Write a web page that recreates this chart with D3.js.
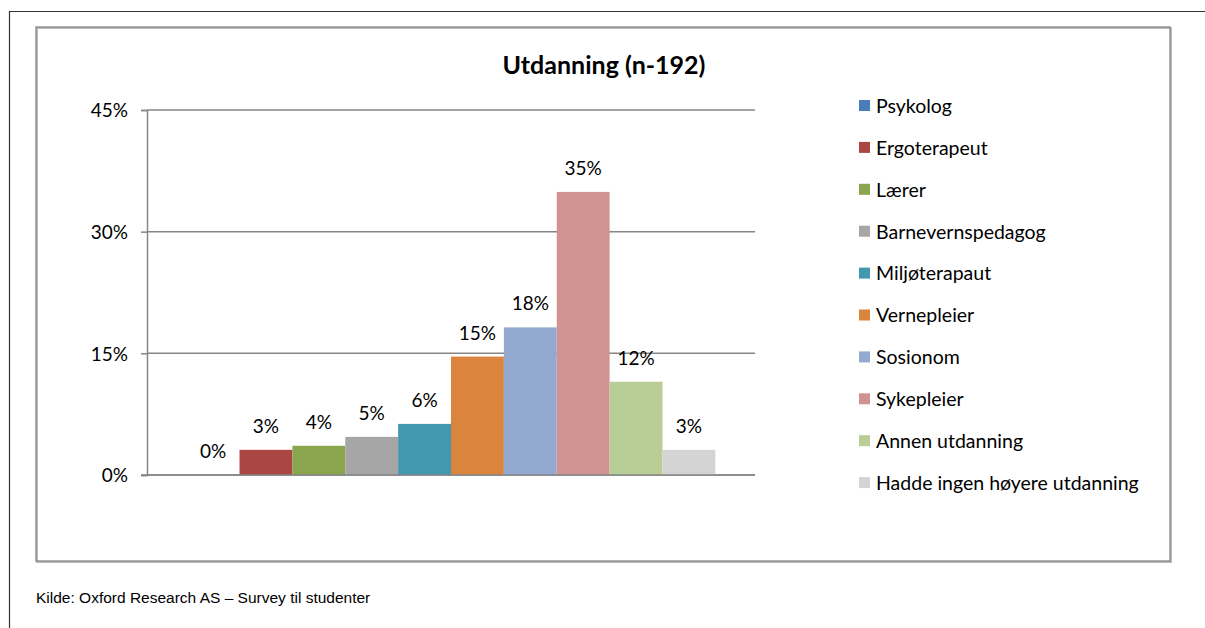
<!DOCTYPE html>
<html>
<head>
<meta charset="utf-8">
<script src="https://cdn.jsdelivr.net/npm/d3@7"></script>
<style>
  html, body { margin: 0; background: #fff; overflow: hidden; }
  svg { display: block; }
  svg text { font-family: Lato, "Open Sans", sans-serif; fill: #000; }
</style>
</head>
<body>
<div class="svgContainer"></div>
<script>
// data
let categories = ["Psykolog", "Ergoterapeut", "Lærer", "Barnevernspedagog", "Miljøterapaut",
    "Vernepleier", "Sosionom", "Sykepleier", "Annen utdanning", "Hadde ingen høyere utdanning"];
let values = [0, 3.1, 3.6, 4.7, 6.3, 14.6, 18.2, 34.9, 11.5, 3.1];
let yTicks = [0, 15, 30, 45];
let colors = ["#4A7EBB", "#AA4643", "#89A54E", "#A6A6A6", "#4198AF",
    "#DB843D", "#93A9CF", "#D19392", "#B9CD96", "#D4D4D4"];

let w = 1205;
let h = 628;

let plotLeft = 147;
let plotRight = 755;
let plotTop = 110;
let plotBottom = 475;

const svg = d3.select(".svgContainer")
    .append("svg")
    .attr("width", w)
    .attr("height", h)

// outer frame: only the left and top edges are visible
svg.append("path")
    .attr("d", `M9.5,${h} V11.5 H${w}`)
    .attr("fill", "none")
    .attr("stroke", "#333")
    .attr("stroke-width", 1.2)

// chart area border with slight shadow
svg.append("rect")
    .attr("x", 37).attr("y", 28)
    .attr("width", 1134).attr("height", 534)
    .attr("fill", "none")
    .attr("stroke", "#bbb")
    .attr("stroke-width", 2)
svg.append("rect")
    .attr("x", 36).attr("y", 27)
    .attr("width", 1134).attr("height", 534)
    .attr("fill", "none")
    .attr("stroke", "#868686")
    .attr("stroke-width", 1.3)

svg.append("text")
    .attr("x", 604)
    .attr("y", 74)
    .attr("text-anchor", "middle")
    .style("font-size", "25px")
    .style("font-weight", "bold")
    .text("Utdanning (n-192)")

let yScale = d3.scaleLinear()
    .domain([0, 45])
    .range([plotBottom, plotTop]);

// one category, Excel-like gap width 150%
let barW = (plotRight - plotLeft) / (categories.length + 1.5);
let xScale = d3.scaleBand()
    .domain(categories)
    .range([plotLeft + 0.75 * barW, plotRight - 0.75 * barW])
    .padding(0);

const yAxis = d3.axisLeft(yScale)
    .tickValues(yTicks)
    .tickSize(6)
    .tickFormat((d) => d + "%");

// gridlines
svg.append("g")
    .selectAll("line")
    .data(yTicks)
    .enter()
    .append("line")
    .attr("x1", plotLeft)
    .attr("x2", plotRight)
    .attr("y1", (d) => yScale(d))
    .attr("y2", (d) => yScale(d))
    .attr("stroke", "#868686")
    .attr("stroke-width", 1.5)

let yG = svg.append("g")
    .attr("id", "y-axis")
    .attr("transform", `translate(${plotLeft}, 0)`)
    .call(yAxis)
yG.select(".domain").attr("stroke", "#868686").attr("stroke-width", 1.5)
yG.selectAll(".tick line").attr("stroke", "#868686").attr("stroke-width", 1.5)
yG.selectAll(".tick text")
    .attr("x", -19)
    .attr("dy", "0.36em")
    .style("font-size", "19px")
    .style("font-family", "Lato, sans-serif")
    .attr("fill", "#000")

svg.selectAll(".bar")
    .data(values)
    .enter()
    .append("rect")
    .attr("class", "bar")
    .attr("x", (d, i) => xScale(categories[i]))
    .attr("y", (d) => yScale(d))
    .attr("width", xScale.bandwidth())
    .attr("height", (d) => plotBottom - yScale(d))
    .attr("fill", (d, i) => colors[i])

svg.selectAll(".barLabel")
    .data(values)
    .enter()
    .append("text")
    .attr("class", "barLabel")
    .attr("x", (d, i) => xScale(categories[i]) + xScale.bandwidth() / 2)
    .attr("y", (d) => yScale(d) - 17)
    .attr("text-anchor", "middle")
    .style("font-size", "19px")
    .text((d) => Math.round(d) + "%")

// redraw baseline over bars
svg.append("line")
    .attr("x1", plotLeft - 6).attr("x2", plotRight)
    .attr("y1", plotBottom).attr("y2", plotBottom)
    .attr("stroke", "#868686")
    .attr("stroke-width", 1.5)

// legend
let legend = svg.append("g")
    .selectAll("g")
    .data(categories)
    .enter()
    .append("g")
    .attr("transform", (d, i) => `translate(859, ${106 + i * 41.9})`)

legend.append("rect")
    .attr("x", 0).attr("y", -6)
    .attr("width", 11).attr("height", 11)
    .attr("fill", (d, i) => colors[i])

legend.append("text")
    .attr("x", 17)
    .attr("y", 0)
    .attr("dy", "0.35em")
    .style("font-size", "19.5px")
    .text((d) => d)

svg.append("text")
    .attr("x", 36)
    .attr("y", 603)
    .style("font-family", "'Liberation Sans', Arial, sans-serif")
    .style("font-size", "15.5px")
    .text("Kilde: Oxford Research AS – Survey til studenter")
</script>
</body>
</html>
